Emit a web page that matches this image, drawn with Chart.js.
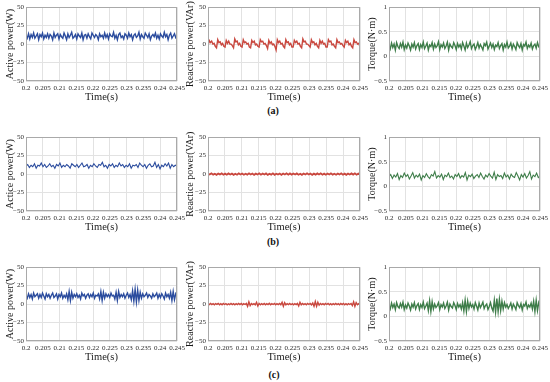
<!DOCTYPE html>
<html lang="en">
<head>
  <meta charset="UTF-8" />
  <title>Power and torque waveforms</title>
  <script src="https://cdn.jsdelivr.net/npm/chart.js"></script>
  <style>
    body { margin: 0; background: #fff; }
    #fig { position: relative; width: 550px; height: 382px; overflow: hidden; background: #fff; }
    #fig canvas { position: absolute; }
    .tag { position: absolute; width: 24px; text-align: center; font: bold 10px "Liberation Serif", "Times New Roman", serif; color: #111; }
  </style>
</head>
<body>
<div id="fig">
  <div class="tag" style="left:261px; top:105px;">(a)</div>
  <div class="tag" style="left:261px; top:236px;">(b)</div>
  <div class="tag" style="left:262px; top:369px;">(c)</div>
</div>

<script>
  // time axis (s)
  const T_START = 0.2;
  const T_END = 0.245;
  const timeTicks = [0.2, 0.205, 0.21, 0.215, 0.22, 0.225, 0.23, 0.235, 0.24, 0.245];
  const timeLabels = ["0.2", "0.205", "0.21", "0.215", "0.22", "0.225", "0.23", "0.235", "0.24", "0.245"];

  const powerTicks = [-50, -25, 0, 25, 50];
  const powerLabels = ["\u221250", "\u221225", "0", "25", "50"];
  const torqueTicks = [-0.5, 0, 0.5, 1];
  const torqueLabels = ["\u22120.5", "0", "0.5", "1"];

  // (a)
  const activeA = [
    12,8,14,7,13,9,15,8,11,14,6,13,10,15,7,12,9,14,8,13,
    11,6,15,9,12,14,7,13,10,8,15,11,6,14,9,12,16,8,10,13,
    7,14,11,9,15,6,12,13,8,14,10,7,15,12,9,13,11,6,14,10,
    12,8,15,9,13,7,14,11,10,16,8,12,6,13,15,9,11,7,14,12,
    8,15,10,13,6,12,14,9,11,16,7,13,10,8,15,12,9,14,6,11,
    13,10,15,8,12,7,14,11,9,16,10,13,6,12,15,8,11,14,9,12
  ];
  const reactiveA = [
    -3,5,2,4,0,1,-3,
    -5,6,2,3,-1,1,-3,
    -4,5,1,4,0,0,-2,
    -5,7,3,4,-1,1,-3,
    -4,6,2,3,0,1,-4,
    -5,5,2,4,-1,0,-3,
    -4,6,3,4,0,1,-2,
    -6,5,1,3,-1,0,-3,
    -8,6,2,4,0,1,-3,
    -5,6,2,3,-1,1,-4,
    -4,5,2,4,0,1,-3,
    -5,7,3,4,0,0,-2,
    -4,6,2,3,-1,1,-3,
    -5,5,1,4,0,1,-4,
    -4,6,3,4,-1,0,-3,
    -5,6,2,3,0,1,-2,
    -4,5,2,4,-1,1,-3,
    -5,6,2,3,0,1,-4
  ];
  const torqueA = [
    .22,.15,.27,.18,.25,.13,.28,.2,.16,.26,.19,.29,.14,.23,.17,.27,.21,.13,.25,.19,
    .28,.15,.22,.26,.14,.24,.18,.29,.16,.21,.27,.13,.23,.2,.28,.15,.25,.18,.22,.3,
    .14,.24,.19,.27,.16,.21,.29,.13,.25,.2,.17,.28,.22,.14,.26,.19,.24,.15,.28,.21,
    .13,.27,.18,.23,.3,.16,.22,.25,.14,.2,.28,.17,.24,.19,.13,.26,.22,.29,.15,.21,
    .27,.18,.25,.14,.23,.2,.28,.16,.22,.26,.13,.24,.19,.29,.17,.21,.27,.15,.25,.2,
    .14,.28,.22,.18,.26,.13,.24,.21,.29,.16,.23,.19,.27,.15,.22,.25,.17,.28,.2,.23
  ];

  // (b)
  const activeB = [
    11,13,9,12,10,14,8,12,11,15,10,13,9,11,14,10,12,8,13,11,
    15,9,12,10,13,11,8,14,12,10,13,9,12,15,10,11,13,8,12,10,
    14,11,9,13,12,16,10,12,8,13,11,14,9,12,10,15,11,13,9,12,
    10,14,8,12,11,13,9,15,12,10,13,8,12,14,10,11,16,9,13,7,
    12,10,14,11,15,8,13,10,12,11
  ];
  const reactiveB = [
    .8,-.6,1,-.7,.5,-1,.7,-.4,1,-.8,.6,-.9,.9,-.5,.7,-1,.4,-.8,1,-.6,
    .7,-.9,.5,-.7,1,-.6,.8,-1,.6,-.5,1,-.8,.7,-.6,.9,-1,.5,-.7,1,-.9,
    .6,-.5,.8,-1,.7,-.6,1,-.8,.9,-.7,.7,-.6,.9,-.8,.5,-1,.7,-.6,1,-.5,
    .8,-1,.6,-.7,.9,-.5,1,-.8,.6,-.9,.7,-.6,1,-.7,.5,-.9,.8,-.6,1,-.8,
    .6,-1,.7,-.5,.9,-.6,1,-.8,.6,-.7
  ];
  const torqueB = [
    .2,.24,.16,.23,.19,.26,.14,.22,.18,.27,.2,.24,.15,.21,.28,.17,.23,.19,.25,.13,
    .22,.18,.26,.2,.16,.24,.21,.3,.17,.22,.19,.25,.14,.23,.2,.27,.18,.21,.15,.24,
    .2,.26,.17,.22,.19,.28,.13,.23,.2,.25,.16,.21,.24,.18,.27,.2,.15,.23,.19,.26,
    .21,.17,.29,.14,.24,.2,.22,.16,.27,.19,.23,.15,.25,.2,.18,.28,.21,.13,.24,.19,
    .26,.17,.22,.3,.15,.23,.2,.27,.18,.21
  ];

  // (c)
  const activeC = [
    12,8,14,9,13,7,15,10,12,14,8,13,9,15,11,7,14,10,13,8,
    12,15,9,11,14,7,13,10,15,8,12,9,14,6,17,5,16,8,13,10,
    14,9,12,7,15,11,13,8,12,14,9,13,10,15,8,12,11,14,7,17,
    5,16,8,14,10,13,9,15,11,12,7,16,5,17,9,13,10,14,8,12,
    15,9,13,6,18,4,20,3,19,5,16,8,14,10,12,15,9,13,11,8,
    14,10,12,15,8,13,9,14,11,7,15,10,13,8,16,5,17,6,14,11
  ];
  const reactiveC = [
    .8,-.6,1,-.7,.5,-1,.7,-.4,1,-.8,.6,-.9,.9,-.5,.7,-1,.4,-.8,1,-.6,
    .7,-.9,.5,-.7,1,-.6,.8,-1,.6,-.5,1,-3,3,-2,.8,-.7,.6,-1,2.5,-2.5,
    1,-.8,.7,-.6,.9,-1,.5,-.7,1,-.9,.6,-.5,.8,-1,.7,-.6,1,-.8,2.5,-3,
    2,-1,.7,-.6,.9,-.8,.5,-1,.7,-.6,1,-2.5,2.5,-1,.8,-.7,.6,-.9,1,-.5,
    .8,-1,1.5,-3,3.5,-3,2.5,-1.5,.9,-.7,.6,-1,.8,-.5,1,-.8,.6,-.9,.7,-.6,
    1,-.7,.5,-.9,.8,-.6,1,-.8,.6,-1,.7,-.5,.9,-2,3,-3,2,-.8,.6,-.7
  ];
  const torqueC = [
    .22,.15,.27,.18,.25,.14,.28,.2,.17,.26,.19,.29,.14,.23,.17,.27,.21,.13,.25,.19,
    .28,.15,.22,.26,.14,.24,.18,.29,.16,.21,.27,.12,.32,.1,.3,.15,.25,.18,.22,.28,
    .14,.24,.19,.27,.16,.21,.29,.13,.25,.2,.17,.28,.22,.14,.26,.19,.24,.15,.28,.11,
    .33,.1,.31,.16,.27,.19,.24,.15,.28,.21,.13,.27,.18,.23,.29,.16,.22,.25,.14,.2,
    .28,.17,.11,.33,.09,.36,.1,.35,.12,.31,.15,.28,.19,.24,.16,.21,.27,.15,.25,.2,
    .14,.28,.22,.18,.26,.13,.24,.21,.29,.16,.23,.19,.27,.15,.31,.1,.33,.12,.28,.2
  ];

  const BLUE = "#2b4c9e";
  const RED = "#c9473e";
  const GREEN = "#3e7d49";
  const SERIF = "'Liberation Serif', 'Times New Roman', serif";

  // plot boxes
  const colLeft = [26, 208, 389];
  const colWidth = [151, 152, 151];
  const colAxisW = [22, 24, 23];
  const rowTop = [7, 137, 267];
  const PLOT_H = 74;
  const PAD_TOP = 6, PAD_RIGHT = 12, X_AXIS_H = 23;

  // samples are evenly spaced over the window
  function series(vals) {
    const dt = (T_END - T_START) / (vals.length - 1);
    return vals.map((v, i) => ({ x: T_START + i * dt, y: v }));
  }

  const frame = {
    id: "frame",
    afterDraw(chart) {
      const a = chart.chartArea;
      const ctx = chart.ctx;
      ctx.save();
      ctx.strokeStyle = "#a9a9a9";
      ctx.lineWidth = 1;
      ctx.strokeRect(Math.round(a.left) + 0.5, Math.round(a.top) + 0.5,
                     Math.round(a.right - a.left) - 1, Math.round(a.bottom - a.top) - 1);
      ctx.restore();
    }
  };

  function makePlot(row, col, vals, color, yTitle, yTicks, yLabels, width) {
    const canvas = document.createElement("canvas");
    const w = colAxisW[col] + colWidth[col] + PAD_RIGHT;
    const h = PAD_TOP + PLOT_H + X_AXIS_H;
    canvas.width = w;
    canvas.height = h;
    canvas.style.width = w + "px";
    canvas.style.height = h + "px";
    canvas.style.left = (colLeft[col] - colAxisW[col]) + "px";
    canvas.style.top = (rowTop[row] - PAD_TOP) + "px";
    document.getElementById("fig").appendChild(canvas);

    new Chart(canvas, {
      type: "line",
      data: {
        datasets: [{
          data: series(vals),
          borderColor: color,
          borderWidth: width || 1,
          pointRadius: 0,
          tension: 0
        }]
      },
      options: {
        responsive: false,
        animation: false,
        events: [],
        layout: { padding: { top: PAD_TOP, right: PAD_RIGHT, left: 0, bottom: 0 } },
        plugins: { legend: { display: false }, tooltip: { enabled: false } },
        scales: {
          x: {
            type: "linear",
            min: T_START,
            max: T_END,
            afterBuildTicks: s => { s.ticks = timeTicks.map(v => ({ value: v })); },
            afterFit: s => { s.height = X_AXIS_H; },
            grid: { color: "#e2e2e2", tickLength: 0 },
            border: { display: false },
            ticks: {
              autoSkip: false, maxRotation: 0, minRotation: 0, padding: 3,
              color: "#2a2a2a", font: { family: SERIF, size: 7 },
              callback: (v, i) => timeLabels[i]
            },
            title: {
              display: true, text: "Time(s)", color: "#1a1a1a",
              padding: 0, font: { family: SERIF, size: 10.5 }
            }
          },
          y: {
            min: yTicks[0],
            max: yTicks[yTicks.length - 1],
            afterBuildTicks: s => { s.ticks = yTicks.map(v => ({ value: v })); },
            afterFit: s => { s.width = colAxisW[col]; },
            grid: { color: "#e2e2e2", tickLength: 0 },
            border: { display: false },
            ticks: {
              padding: 2, color: "#2a2a2a", font: { family: SERIF, size: 7 },
              callback: (v, i) => yLabels[i]
            },
            title: {
              display: true, text: yTitle, color: "#1a1a1a",
              padding: 0, font: { family: SERIF, size: 10 }
            }
          }
        }
      },
      plugins: [frame]
    });
  }

  window.onload = function () {
    makePlot(0, 0, activeA, BLUE, "Active power(W)", powerTicks, powerLabels, 1.4);
    makePlot(0, 1, reactiveA, RED, "Reactive power(VAr)", powerTicks, powerLabels, 1.4);
    makePlot(0, 2, torqueA, GREEN, "Torque(N\u00b7m)", torqueTicks, torqueLabels, 1.4);

    makePlot(1, 0, activeB, BLUE, "Actice power(W)", powerTicks, powerLabels, 1.1);
    makePlot(1, 1, reactiveB, RED, "Reactice power(VAr)", powerTicks, powerLabels, 1.8);
    makePlot(1, 2, torqueB, GREEN, "Torque(N\u00b7m)", torqueTicks, torqueLabels, 1.1);

    makePlot(2, 0, activeC, BLUE, "Active power(W)", powerTicks, powerLabels, 1.4);
    makePlot(2, 1, reactiveC, RED, "Reactive power(VAr)", powerTicks, powerLabels, 1.4);
    makePlot(2, 2, torqueC, GREEN, "Torque(N\u00b7m)", torqueTicks, torqueLabels, 1.4);
  };
</script>
</body>
</html>
